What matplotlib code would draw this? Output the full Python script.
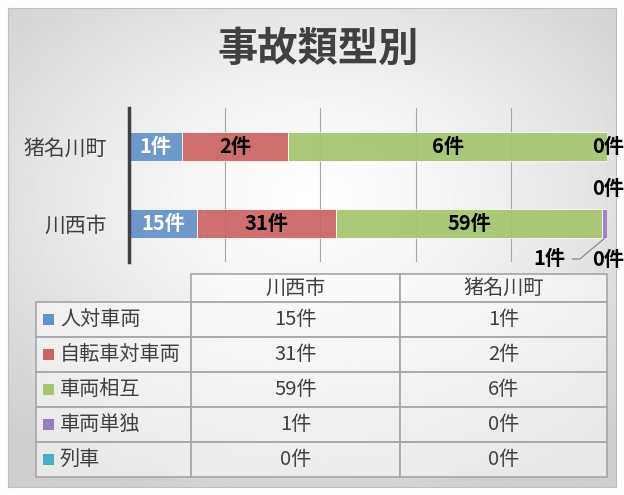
import numpy as np
import matplotlib.pyplot as plt
from matplotlib.patches import Rectangle

plt.rcParams['font.family'] = ['Noto Sans CJK JP', 'DejaVu Sans']

title = '事故類型別'
areas = ['川西市', '猪名川町']
types = ['人対車両', '自転車対車両', '車両相互', '車両単独', '列車']
kawanishi = [15, 31, 59, 1, 0]
inagawa = [1, 2, 6, 0, 0]
colors = ['#6592C8', '#CB6564', '#A6C56F', '#9A7CC0', '#4BACC6']

counts = np.array([kawanishi, inagawa])
shares = counts / counts.sum(axis=1, keepdims=True)

W, H = 624, 495
fig = plt.figure(figsize=(W / 100, H / 100), dpi=100)

# gray radial gradient panel
bg = fig.add_axes([8 / W, 8 / H, 608 / W, 479 / H])
yy, xx = np.mgrid[0:1:300j, 0:1:400j]
r = np.sqrt((xx - 0.5) ** 2 + ((yy - 0.4) / 0.9) ** 2)
shade = 1 - 0.19 * np.clip(r / 0.72, 0, 1) ** 1.3
bg.imshow(shade, cmap='gray', vmin=0, vmax=1, aspect='auto', extent=[0, 1, 0, 1])
bg.set_xticks([])
bg.set_yticks([])
for s in bg.spines.values():
  s.set_color('#BFBFBF')

fig.text(318 / W, 1 - 49 / H, title, ha='center', va='center',
         fontsize=29, fontweight='bold', color='#404040')

# stacked 100% bars
ax = fig.add_axes([129 / W, 1 - 262 / H, 478 / W, 154 / H])
ax.patch.set_alpha(0)
ypos = np.arange(len(areas))
lefts = np.zeros(len(areas))
for j, t in enumerate(types):
  ax.barh(ypos, shares[:, j], left=lefts, height=0.38, color=colors[j],
          edgecolor='white', linewidth=0.6, alpha=0.93, zorder=2)
  if j < 3:
    for i in range(len(areas)):
      ax.text(lefts[i] + shares[i, j] / 2, ypos[i], '%d件' % counts[i, j],
              ha='center', va='center', fontsize=14.5, fontweight='bold',
              color='white' if j == 0 else 'black', zorder=3)
  lefts = lefts + shares[:, j]

lab = dict(ha='center', va='center', fontsize=14.5, fontweight='bold',
           textcoords='offset points', annotation_clip=False)
# 猪名川町 tail labels
ax.annotate('%d件' % inagawa[3], xy=(1.0, 1), xytext=(1, 0), **lab)
ax.annotate('%d件' % inagawa[4], xy=(1.0, 1), xytext=(1, -30), **lab)
# 川西市 tail labels
end3 = shares[0, :4].sum()
ax.annotate('%d件' % kawanishi[3], xy=(end3 - shares[0, 3] / 2, -0.19),
            xytext=(-40, -15), arrowprops=dict(arrowstyle='-', color='#808080', lw=0.8,
            shrinkA=3, shrinkB=0, connectionstyle='angle,angleA=0,angleB=40,rad=0'), **lab)
ax.annotate('%d件' % kawanishi[4], xy=(1.0, 0), xytext=(1, -26), **lab)

ax.set_xlim(0, 1)
ax.set_ylim(-0.5, 1.5)
ax.set_xticks([0.2, 0.4, 0.6, 0.8, 1.0])
ax.grid(axis='x', color='#A6A6A6', lw=0.8, zorder=1)
ax.set_axisbelow(True)
ax.tick_params(axis='x', length=0, labelbottom=False)
ax.set_yticks(ypos)
ax.set_yticklabels(areas, fontsize=15, color='#404040')
ax.tick_params(axis='y', length=0, pad=16)
for s in ['top', 'right', 'bottom']:
  ax.spines[s].set_visible(False)
ax.spines['left'].set_color('#404040')
ax.spines['left'].set_linewidth(2.5)

# data table
tb = fig.add_axes([0, 0, 1, 1])
tb.set_xlim(0, W)
tb.set_ylim(H, 0)
tb.set_axis_off()
tb.patch.set_alpha(0)
xs = [36, 191, 400, 607]
ys = [274, 302, 337, 372, 407, 442, 477]
cell = dict(facecolor=(1, 1, 1, 0.55), edgecolor='#A6A6A6', lw=1.2)
for c in range(2):
  tb.add_patch(Rectangle((xs[c + 1], ys[0]), xs[c + 2] - xs[c + 1], ys[1] - ys[0], **cell))
  tb.text((xs[c + 1] + xs[c + 2]) / 2, (ys[0] + ys[1]) / 2, areas[c],
          ha='center', va='center', fontsize=14.5, color='#404040')
for k, t in enumerate(types):
  y0, y1 = ys[k + 1], ys[k + 2]
  tb.add_patch(Rectangle((xs[0], y0), xs[1] - xs[0], y1 - y0, **cell))
  tb.add_patch(Rectangle((43, (y0 + y1) / 2 - 5.5), 11, 11, facecolor=colors[k], edgecolor='none'))
  tb.text(60, (y0 + y1) / 2, t, ha='left', va='center', fontsize=14.5, color='#404040')
  vals = [kawanishi[k], inagawa[k]]
  for c in range(2):
    tb.add_patch(Rectangle((xs[c + 1], y0), xs[c + 2] - xs[c + 1], y1 - y0, **cell))
    tb.text((xs[c + 1] + xs[c + 2]) / 2, (y0 + y1) / 2, '%d件' % vals[c],
            ha='center', va='center', fontsize=14.5, color='#404040')

plt.savefig('out.png', dpi=100)
